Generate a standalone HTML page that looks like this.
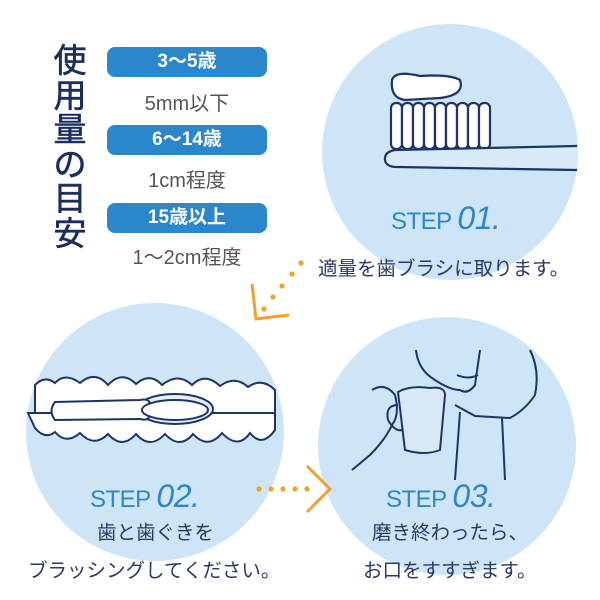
<!DOCTYPE html>
<html><head><meta charset="utf-8"><style>
body{margin:0;width:600px;height:600px;background:#fff;overflow:hidden;position:relative;font-family:"Liberation Sans","Noto Sans CJK JP",sans-serif}
.t{position:absolute;white-space:nowrap}
.pill{position:absolute;left:107px;width:160px;height:30px;border-radius:8px;background:#2b87cc;color:#fff;font-weight:bold;font-size:19px;text-align:center;line-height:30px}
.sub{position:absolute;left:107px;width:160px;text-align:center;color:#555;font-size:20px}
.jp{color:#2a3a66;font-size:19.5px}
.st{color:#2b87cc;font-size:24px;letter-spacing:-0.5px}
</style></head><body>
<svg width="600" height="600" style="position:absolute;left:0;top:0">
<circle cx="450" cy="152" r="128" fill="#cde5f6"/>
<circle cx="155" cy="432" r="129" fill="#cde5f6"/>
<circle cx="447" cy="446" r="129" fill="#cde5f6"/>
<g stroke="#1e3466" stroke-width="2.2" fill="#fff">
<path d="M392,80 Q395,70 420,76 Q450,74 460,80 Q465,95 440,98 L405,100 Q390,98 392,80Z"/>
<rect x="391" y="103" width="11" height="46" rx="5"/><rect x="402" y="103" width="11" height="46" rx="5"/>
<rect x="413" y="103" width="11" height="46" rx="5"/><rect x="424" y="103" width="11" height="46" rx="5"/>
<rect x="435" y="103" width="11" height="46" rx="5"/><rect x="446" y="103" width="11" height="46" rx="5"/>
<rect x="457" y="103" width="11" height="46" rx="5"/><rect x="468" y="103" width="11" height="46" rx="5"/>
<rect x="479" y="103" width="11" height="46" rx="5"/>
<path d="M577,146 L395,150 Q384,152 385,160 Q386,167 397,167 L577,170" fill="#d9ebf8"/>
</g>
<g stroke="#1e3466" stroke-width="2" fill="#fff">
<path d="M35,385 Q45,375 55,383 Q65,372 80,383 Q95,370 108,385 Q122,370 136,384 Q150,372 162,385 Q178,372 192,385 Q205,372 220,386 Q235,375 248,387 Q262,377 275,390 L275,413 L35,413Z"/>
<path d="M28,413 L275,413 L275,430 Q262,448 250,433 Q238,450 222,433 Q208,450 193,434 Q180,450 165,434 Q150,450 136,434 Q122,450 108,434 Q94,448 80,433 Q66,445 55,432 Q45,440 35,428Z"/>
<ellipse cx="175" cy="409" rx="38" ry="15" fill="#e3f0fa"/>
<path d="M55,402 L140,400 Q150,398 150,405 L150,416 Q148,421 140,419 L55,420 Q48,411 55,402Z"/>
<ellipse cx="175" cy="410" rx="33" ry="10"/>
</g>
<g stroke="#1e3466" stroke-width="2" fill="none">
<path d="M416,350 Q418,370 435,380 Q450,390 460,390 Q468,395 475,385 L480,350"/>
<path d="M530,350 Q540,370 535,395 Q525,410 510,418 L475,416 L455,405"/>
<path d="M502,418 L505,480 M460,412 L455,480"/>
<path d="M457,375 Q468,380 478,375"/>
<path d="M398,392 Q410,385 430,388 Q445,386 445,395 L440,450 Q425,456 405,450Z" fill="#d9e9f8"/>
<path d="M398,405 Q385,405 388,420 Q395,432 402,430"/>
<path d="M372,390 Q385,382 395,395 Q400,415 392,425 Q385,440 370,455 L352,470"/>
</g>
<g fill="#f0a02c">
<circle cx="301" cy="263" r="2.6"/><circle cx="292" cy="274" r="2.6"/><circle cx="282" cy="286" r="2.6"/><circle cx="273" cy="297" r="2.6"/><circle cx="264" cy="309" r="2.6"/>
<circle cx="259" cy="489" r="2.6"/><circle cx="271" cy="489" r="2.6"/><circle cx="283" cy="489" r="2.6"/><circle cx="295" cy="489" r="2.6"/><circle cx="307" cy="489" r="2.6"/>
</g>
<g stroke="#f0a02c" stroke-width="3" fill="none">
<path d="M252,284 L256,319 L289,315"/>
<path d="M307,466 L330,489 L307,512"/>
</g>
</svg>
<div class="t" style="left:50px;top:44px;width:40px;font-size:33px;line-height:34.5px;color:#1b2d5e;white-space:normal;text-align:center;-webkit-text-stroke:0.6px #1b2d5e">使用量の目安</div>
<div class="pill" style="top:47px">3〜5歳</div>
<div class="sub" style="top:87px">5mm以下</div>
<div class="pill" style="top:125px">6〜14歳</div>
<div class="sub" style="top:164px">1cm程度</div>
<div class="pill" style="top:203px">15歳以上</div>
<div class="sub" style="top:241px">1〜2cm程度</div>
<div class="t st" style="left:391px;top:200px">STEP <i style="font-size:32px">01.</i></div>
<div class="t jp" style="left:318px;top:252px">適量を歯ブラシに取ります。</div>
<div class="t st" style="left:90px;top:478px">STEP <i style="font-size:32px">02.</i></div>
<div class="t jp" style="left:97px;top:516px">歯と歯ぐきを</div>
<div class="t jp" style="left:28px;top:554px">ブラッシングしてください。</div>
<div class="t st" style="left:386px;top:478px">STEP <i style="font-size:32px">03.</i></div>
<div class="t jp" style="left:372px;top:516px">磨き終わったら、</div>
<div class="t jp" style="left:363px;top:554px">お口をすすぎます。</div>
</body></html>
